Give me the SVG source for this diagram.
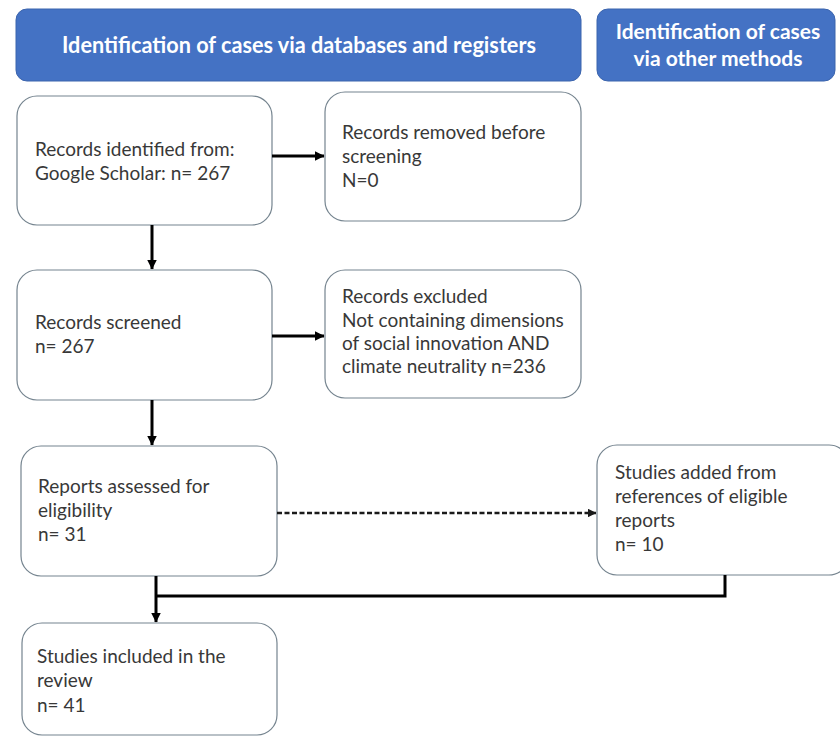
<svg xmlns="http://www.w3.org/2000/svg" width="840" height="737" viewBox="0 0 840 737">
  <style>
    .hdr { fill: #4472C4; stroke: #3b64ad; stroke-width: 1; }
    .hdr-text { fill: #ffffff; font-family: Lato, "Liberation Sans", sans-serif; font-weight: bold; font-size: 22px; }
    .hdr-text-sm { fill: #ffffff; font-family: Lato, "Liberation Sans", sans-serif; font-weight: bold; font-size: 21px; }
    .box { fill: #ffffff; stroke: #75848f; stroke-width: 1.2; }
    .txt { fill: #383838; font-family: Lato, "Liberation Sans", sans-serif; font-size: 19px; }
    .link { fill: none; stroke: #000000; stroke-width: 3; }
    .dash { fill: none; stroke: #1a1a1a; stroke-width: 2.4; stroke-dasharray: 5 2.5; }
  </style>
  <defs>
    <marker id="arrow" viewBox="0 0 10 10" refX="9.5" refY="5" markerWidth="3.4" markerHeight="3.2" orient="auto" markerUnits="strokeWidth">
      <path d="M0,0 L10,5 L0,10 Z" fill="#000000"/>
    </marker>
    <marker id="arrow-dash" viewBox="0 0 10 10" refX="9.5" refY="5" markerWidth="3.6" markerHeight="3.6" orient="auto" markerUnits="strokeWidth">
      <path d="M0,0 L10,5 L0,10 Z" fill="#1a1a1a"/>
    </marker>
  </defs>

  <rect width="840" height="737" fill="#ffffff"/>

  <!-- Column headers -->
  <g id="header-databases">
    <rect class="hdr" x="16" y="9" width="565" height="72" rx="11"/>
    <text class="hdr-text" x="62" y="53" textLength="474" lengthAdjust="spacingAndGlyphs">Identification of cases via databases and registers</text>
  </g>
  <g id="header-other">
    <rect class="hdr" x="597" y="9" width="238" height="72" rx="11"/>
    <text class="hdr-text-sm" x="718" y="39" text-anchor="middle">Identification of cases</text>
    <text class="hdr-text-sm" x="718" y="66" text-anchor="middle">via other methods</text>
  </g>

  <!-- Nodes -->
  <g id="records-identified">
    <rect class="box" x="17" y="96" width="255" height="129" rx="20"/>
    <text class="txt" x="35" y="156">Records identified from:</text>
    <text class="txt" x="35" y="180">Google Scholar: n= 267</text>
  </g>
  <g id="records-removed">
    <rect class="box" x="325" y="92" width="256" height="129" rx="20"/>
    <text class="txt" x="342" y="139">Records removed before</text>
    <text class="txt" x="342" y="163">screening</text>
    <text class="txt" x="342" y="187">N=0</text>
  </g>
  <g id="records-screened">
    <rect class="box" x="17" y="270" width="255" height="130" rx="20"/>
    <text class="txt" x="35" y="329">Records screened</text>
    <text class="txt" x="35" y="353">n= 267</text>
  </g>
  <g id="records-excluded">
    <rect class="box" x="325" y="270" width="256" height="128" rx="20"/>
    <text class="txt" x="342" y="303">Records excluded</text>
    <text class="txt" x="342" y="327">Not containing dimensions</text>
    <text class="txt" x="342" y="350">of social innovation AND</text>
    <text class="txt" x="342" y="373">climate neutrality n=236</text>
  </g>
  <g id="reports-assessed">
    <rect class="box" x="21" y="446" width="256" height="130" rx="20"/>
    <text class="txt" x="38" y="493">Reports assessed for</text>
    <text class="txt" x="38" y="517">eligibility</text>
    <text class="txt" x="38" y="541">n= 31</text>
  </g>
  <g id="studies-added">
    <rect class="box" x="597" y="445" width="252" height="130" rx="20"/>
    <text class="txt" x="615" y="479">Studies added from</text>
    <text class="txt" x="615" y="503">references of eligible</text>
    <text class="txt" x="615" y="527">reports</text>
    <text class="txt" x="615" y="551">n= 10</text>
  </g>
  <g id="studies-included">
    <rect class="box" x="22" y="623" width="255" height="112" rx="20"/>
    <text class="txt" x="37" y="663">Studies included in the</text>
    <text class="txt" x="37" y="687">review</text>
    <text class="txt" x="37" y="712">n= 41</text>
  </g>

  <!-- Connectors -->
  <g id="connectors">
    <line class="link" x1="272" y1="156" x2="324" y2="156" marker-end="url(#arrow)"/>
    <line class="link" x1="152" y1="225" x2="152" y2="269" marker-end="url(#arrow)"/>
    <line class="link" x1="272" y1="336" x2="324" y2="336" marker-end="url(#arrow)"/>
    <line class="link" x1="152" y1="400" x2="152" y2="445" marker-end="url(#arrow)"/>
    <line class="dash" x1="277" y1="513" x2="596" y2="513" marker-end="url(#arrow-dash)"/>
    <polyline class="link" points="725,575 725,596 156,596" stroke-width="2.2"/>
    <line class="link" x1="156" y1="576" x2="156" y2="622" marker-end="url(#arrow)"/>
  </g>
</svg>
